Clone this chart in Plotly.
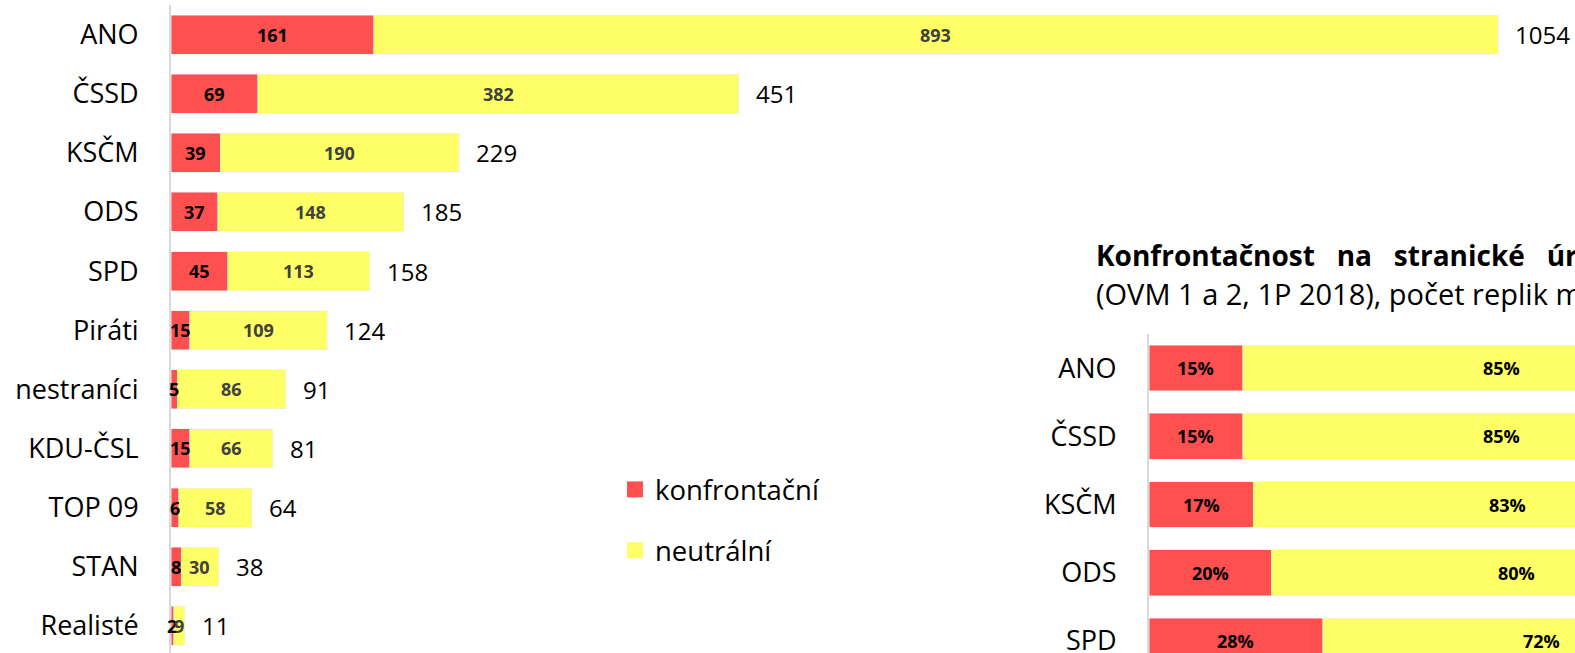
import plotly.graph_objects as go

# ---------------- data ----------------
parties = ["ANO", "ČSSD", "KSČM", "ODS", "SPD", "Piráti", "nestraníci",
           "KDU-ČSL", "TOP 09", "STAN", "Realisté"]
konfrontacni = [161, 69, 39, 37, 45, 15, 5, 15, 6, 8, 2]
neutralni = [893, 382, 190, 148, 113, 109, 86, 66, 58, 30, 9]

# right-hand (cropped) chart: shares in %
parties_pct = ["ANO", "ČSSD", "KSČM", "ODS", "SPD"]
konfrontacni_pct = [15.3, 15.3, 17.0, 20.0, 28.4]
neutralni_pct = [84.7, 84.7, 83.0, 80.0, 71.6]

RED = "#FF5050"
YELLOW = "#FFFF66"
FONT = "Open Sans"
W, H = 1575, 653

totals = [k + n for k, n in zip(konfrontacni, neutralni)]

fig = go.Figure()

# ---------------- main chart ----------------
fig.add_trace(go.Bar(y=parties, x=konfrontacni, orientation="h",
                     marker_color=RED, width=0.66, showlegend=False,
                     xaxis="x", yaxis="y", hoverinfo="skip"))
fig.add_trace(go.Bar(y=parties, x=neutralni, orientation="h",
                     marker_color=YELLOW, width=0.66, showlegend=False,
                     xaxis="x", yaxis="y", hoverinfo="skip"))

lbl_bold = dict(family=FONT, size=18, weight="bold")
for p, k, n, t in zip(parties, konfrontacni, neutralni, totals):
    fig.add_annotation(x=k / 2, y=p, xref="x", yref="y", text=str(k),
                       showarrow=False, font=dict(lbl_bold, color="#000000"))
    fig.add_annotation(x=k + n / 2, y=p, xref="x", yref="y", text=str(n),
                       showarrow=False, font=dict(lbl_bold, color="#404040"))
    fig.add_annotation(x=t, y=p, xref="x", yref="y", text=str(t),
                       showarrow=False, xanchor="left", xshift=15,
                       font=dict(family=FONT, size=24, color="#000000"))

# legend entries (square markers)
for name, col in [("konfrontační", RED), ("neutrální", YELLOW)]:
    fig.add_trace(go.Scatter(x=[None], y=[None], mode="markers", name=name,
                             legendgroup=name,
                             marker=dict(symbol="square", size=16, color=col),
                             xaxis="x", yaxis="y"))

# ---------------- second chart (cropped at the edge) ----------------
fig.add_trace(go.Bar(y=parties_pct, x=konfrontacni_pct, orientation="h",
                     marker_color=RED, width=0.67, showlegend=False,
                     xaxis="x2", yaxis="y2", hoverinfo="skip"))
fig.add_trace(go.Bar(y=parties_pct, x=neutralni_pct, orientation="h",
                     marker_color=YELLOW, width=0.67, showlegend=False,
                     xaxis="x2", yaxis="y2", hoverinfo="skip"))
for p, k, n in zip(parties_pct, konfrontacni_pct, neutralni_pct):
    fig.add_annotation(x=k / 2, y=p, xref="x2", yref="y2", text=f"{k:.0f}%",
                       showarrow=False, font=dict(lbl_bold, color="#000000"))
    fig.add_annotation(x=k + n / 2, y=p, xref="x2", yref="y2", text=f"{n:.0f}%",
                       showarrow=False, font=dict(lbl_bold, color="#000000"))

sp = "&nbsp;" * 3
fig.add_annotation(
    x=1094 / W, y=1 - 255 / H, xref="paper", yref="paper",
    text=f"<b>Konfrontačnost{sp}na{sp}stranické{sp}úrov</b>",
    showarrow=False, xanchor="left", yanchor="middle",
    font=dict(family=FONT, size=28, color="#000000"))
fig.add_annotation(
    x=1094 / W, y=1 - 293 / H, xref="paper", yref="paper",
    text="(OVM 1 a 2, 1P 2018), počet replik m",
    showarrow=False, xanchor="left", yanchor="middle",
    font=dict(family=FONT, size=29, color="#000000"))

fig.update_layout(
    width=W, height=H,
    margin=dict(l=0, r=0, t=0, b=0),
    barmode="stack",
    plot_bgcolor="rgba(0,0,0,0)", paper_bgcolor="white",
    font=dict(family=FONT, size=27, color="#000000"),
    xaxis=dict(domain=[171 / W, 1530 / W], range=[0, 1079.4], visible=False,
               automargin=False),
    yaxis=dict(domain=[0, 1 - 5 / H], range=[10.46, -0.5], automargin=False,
               showline=True, linecolor="#D9D9D9", linewidth=2,
               ticks="", ticklabelstandoff=25, showgrid=False,
               tickfont=dict(family=FONT, size=27)),
    xaxis2=dict(domain=[1149 / W, 1], range=[0, 69.6], visible=False,
                anchor="y2", automargin=False),
    yaxis2=dict(domain=[0, 1 - 334 / H], range=[4.176, -0.5], anchor="x2",
                automargin=False,
                showline=True, linecolor="#D9D9D9", linewidth=2,
                ticks="", ticklabelstandoff=25, showgrid=False,
                tickfont=dict(family=FONT, size=27)),
    legend=dict(x=615 / W, y=1 - 465 / H, xanchor="left", yanchor="top",
                font=dict(family=FONT, size=27.5), tracegroupgap=22,
                bgcolor="rgba(0,0,0,0)"),
    showlegend=True,
)

# drop the default 8px body margin so the figure sits at the window corner
fig.write_html("out.html", config={"displayModeBar": False},
               post_script="document.body.style.margin='0';")
